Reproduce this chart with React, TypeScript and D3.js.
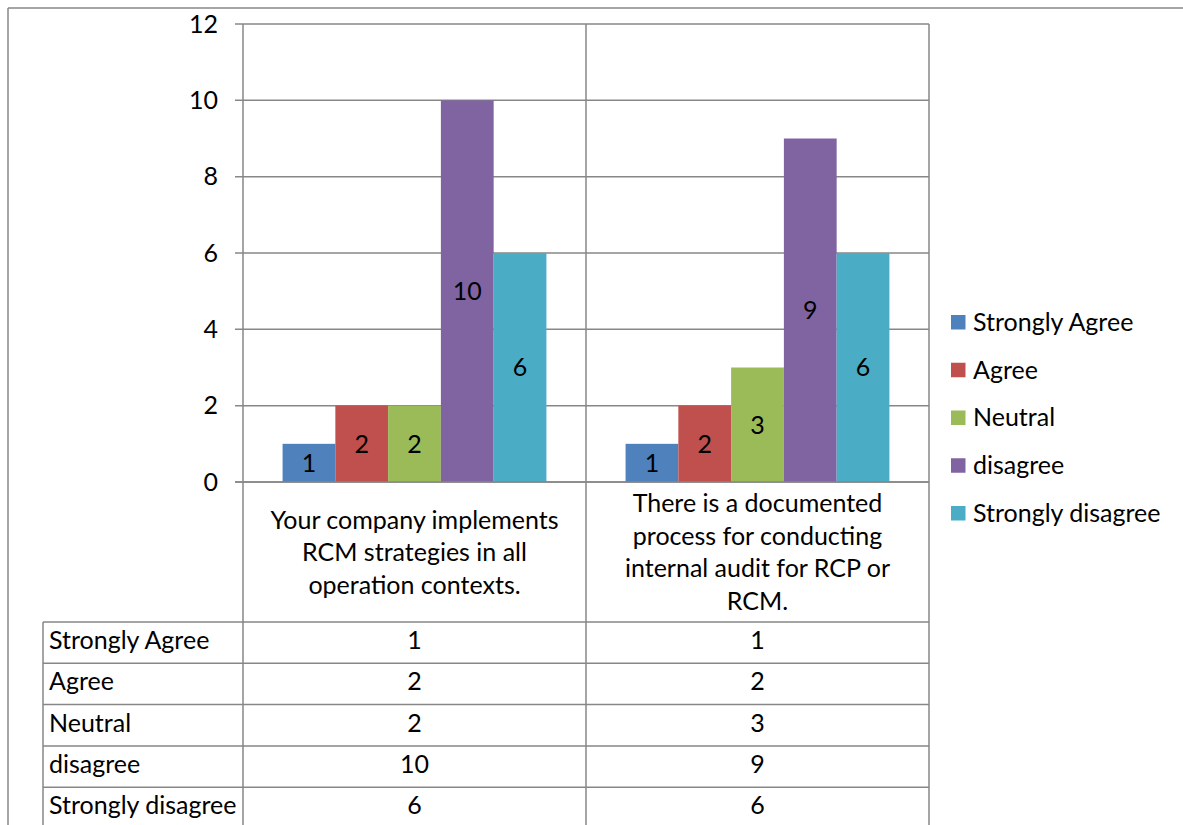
import React from "react";
import * as d3 from "d3";

const categories = [
  ["Your company implements", "RCM strategies in all", "operation contexts."],
  ["There is a documented", "process for conducting", "internal audit for RCP or", "RCM."],
];
const categoryKeys = ["Q1", "Q2"];
const seriesNames = ["Strongly Agree", "Agree", "Neutral", "disagree", "Strongly disagree"];
const seriesColors = ["#4F81BD", "#C0504D", "#9BBB59", "#8064A2", "#4BACC6"];
const values = [
  [1, 1],
  [2, 2],
  [2, 3],
  [10, 9],
  [6, 6],
];
const yTicks = [0, 2, 4, 6, 8, 10, 12];

const FONT = "Lato, 'Open Sans', sans-serif";
const FS = 25;
const GRID = "#878787";

export default function App() {
  const W = 1183;
  const H = 825;
  const plotLeft = 243;
  const plotRight = 929;
  const plotTop = 24;
  const plotBottom = 482;
  const tableTop = 622;
  const rowH = 41.3;
  const tableLeft = 43;

  const y = d3.scaleLinear().domain([0, 12]).range([plotBottom, plotTop]);
  const x = d3.scaleBand<string>().domain(categoryKeys).range([plotLeft, plotRight]).padding(0);
  const bw = x.bandwidth();
  const barW = bw / (seriesNames.length + 1.5);
  const xs = d3
    .scaleBand<string>()
    .domain(seriesNames)
    .range([barW * 0.75, barW * 0.75 + barW * seriesNames.length])
    .padding(0);

  const legendY = d3.scalePoint<string>().domain(seriesNames).range([322, 513]);
  const rowY = d3.scaleBand<string>().domain(seriesNames).range([tableTop, tableTop + rowH * 5]).padding(0);

  const lineH = 32.5;
  const catMid = (plotBottom + tableTop) / 2;

  return (
    <div style={{ position: "absolute", left: 0, top: 0 }}>
      <svg width={W} height={H} style={{ display: "block", fontFamily: FONT }}>
        <rect x={0} y={0} width={W} height={H} fill="#fff" />
        {/* outer frame */}
        <line x1={8} y1={8} x2={W} y2={8} stroke={GRID} strokeWidth={1.5} />
        <line x1={8} y1={8} x2={8} y2={H} stroke={GRID} strokeWidth={1.5} />

        {/* gridlines + ticks */}
        {yTicks.map((t) => (
          <g key={t}>
            <line x1={plotLeft - 8} x2={plotRight} y1={y(t)} y2={y(t)} stroke={GRID} strokeWidth={1.5} />
            <text x={218} y={y(t)} dy="0.35em" textAnchor="end" fontSize={FS} fill="#000">
              {t}
            </text>
          </g>
        ))}

        {/* bars */}
        {seriesNames.map((s, si) =>
          categoryKeys.map((c, ci) => {
            const v = values[si][ci];
            const bx = (x(c) as number) + (xs(s) as number);
            return (
              <g key={s + c}>
                <rect x={bx} y={y(v)} width={xs.bandwidth()} height={y(0) - y(v)} fill={seriesColors[si]} />
                <text
                  x={bx + xs.bandwidth() / 2}
                  y={(y(v) + y(0)) / 2}
                  dy="0.35em"
                  textAnchor="middle"
                  fontSize={FS}
                  fill="#000"
                >
                  {v}
                </text>
              </g>
            );
          })
        )}
        {/* zero line on top */}
        <line x1={plotLeft - 8} x2={plotRight} y1={y(0)} y2={y(0)} stroke={GRID} strokeWidth={1.5} />

        {/* vertical lines */}
        {[plotLeft, ...categoryKeys.map((c) => (x(c) as number) + bw)].map((vx, i) => (
          <line key={i} x1={vx} x2={vx} y1={plotTop} y2={H} stroke={GRID} strokeWidth={1.5} />
        ))}

        {/* category labels */}
        {categoryKeys.map((c, ci) => {
          const lines = categories[ci];
          const cx = (x(c) as number) + bw / 2;
          return (
            <text key={c} textAnchor="middle" fontSize={FS} fill="#000">
              {lines.map((l, li) => (
                <tspan key={li} x={cx} y={catMid + (li - (lines.length - 1) / 2) * lineH + 9}>
                  {l}
                </tspan>
              ))}
            </text>
          );
        })}

        {/* data table */}
        <line x1={tableLeft} x2={tableLeft} y1={tableTop} y2={H} stroke={GRID} strokeWidth={1.5} />
        {seriesNames.map((s, si) => {
          const ry = rowY(s) as number;
          return (
            <g key={s}>
              <line x1={tableLeft} x2={plotRight} y1={ry} y2={ry} stroke={GRID} strokeWidth={1.5} />
              <text x={tableLeft + 6} y={ry + 27} fontSize={FS} fill="#000">
                {s}
              </text>
              {categoryKeys.map((c, ci) => (
                <text key={c} x={(x(c) as number) + bw / 2} y={ry + 27} textAnchor="middle" fontSize={FS} fill="#000">
                  {values[si][ci]}
                </text>
              ))}
            </g>
          );
        })}

        {/* legend */}
        {seriesNames.map((s, si) => (
          <g key={s} transform={`translate(951,${legendY(s)})`}>
            <rect x={0} y={-7} width={14.5} height={14.5} fill={seriesColors[si]} />
            <text x={22} y={0} dy="0.35em" fontSize={FS} fill="#000">
              {s}
            </text>
          </g>
        ))}
      </svg>
    </div>
  );
}
